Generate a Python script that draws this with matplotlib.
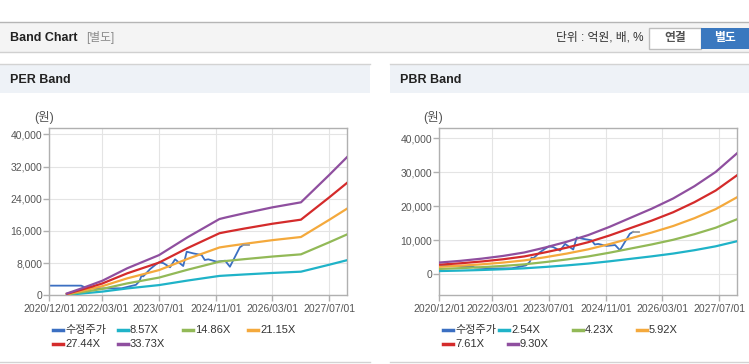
import numpy as np
import matplotlib.pyplot as plt
import matplotlib.dates as mdates
from matplotlib.lines import Line2D
from matplotlib.patches import Rectangle

plt.rcParams['font.family'] = ['Liberation Sans', 'Noto Sans CJK KR']

# adjusted share price (same for both charts)
price_dates = ['2020-12-01', '2021-09-01', '2021-10-01', '2022-03-01', '2022-08-15',
               '2022-12-15', '2023-01-15', '2023-02-01', '2023-02-15', '2023-03-01',
               '2023-04-15', '2023-06-01', '2023-07-01', '2023-08-07', '2023-10-04',
               '2023-11-16', '2024-01-25', '2024-02-24', '2024-04-19', '2024-07-01',
               '2024-07-28', '2024-08-27', '2024-11-07', '2025-01-19', '2025-03-01',
               '2025-05-25', '2025-06-22']
price_vals = [2400, 2400, 2000, 1700, 1750,
              2600, 3550, 4900, 4700, 5100,
              6500, 7600, 8200, 8000, 6960,
              8940, 7280, 10830, 10430, 10010,
              8770, 8940, 8350, 8600, 7100,
              11920, 12490]
last_dates = ['2025-06-22', '2025-08-10']
last_vals = [12490, 12490]

# PER band: EPS (won) x multiple
per_dates = ['2021-05-01', '2021-09-01', '2022-03-01', '2022-10-01', '2023-07-01',
             '2024-03-01', '2024-12-01', '2025-02-01', '2025-07-01', '2026-03-01',
             '2026-11-01', '2027-07-01', '2027-12-04']
per_eps = [13.3, 50, 107, 199, 296, 427, 562, 575, 604, 648, 685, 886, 1020]
per_mult = [8.57, 14.86, 21.15, 27.44, 33.73]

# PBR band: BPS (won) x multiple
pbr_dates = ['2020-12-01', '2021-06-01', '2021-12-01', '2022-06-01', '2022-12-01',
             '2023-06-01', '2023-12-01', '2024-06-01', '2024-12-01', '2025-06-01',
             '2025-12-01', '2026-06-01', '2026-12-01', '2027-06-01', '2027-12-04']
pbr_bps = [371, 425, 495, 580, 690, 850, 1030, 1240, 1500, 1790, 2080, 2400,
           2790, 3240, 3839]
pbr_mult = [2.54, 4.23, 5.92, 7.61, 9.30]

x_ticks = ['2020-12-01', '2022-03-01', '2023-07-01', '2024-11-01', '2026-03-01', '2027-07-01']

price_color = '#3b6fc2'
band_colors = ['#1fb3c8', '#92b957', '#f4a93c', '#d42b2b', '#8f4f9f']

W, H = 749, 364
fig = plt.figure(figsize=(W / 100, H / 100), dpi=100)


def fx(x):
    return x / W


def fy(y):
    return 1 - y / H


def hline(x0, x1, y, color):
    fig.add_artist(Line2D([fx(x0), fx(x1)], [fy(y), fy(y)], color=color, lw=1))


def box(x0, y0, x1, y1, fc, ec='none'):
    fig.add_artist(Rectangle((fx(x0), fy(y1)), fx(x1) - fx(x0), fy(y0) - fy(y1),
                             fc=fc, ec=ec, lw=1))


# page header
box(0, 22, 749, 52, '#f4f4f4')
hline(0, 749, 22, '#b5b5b5')
hline(0, 749, 52, '#d0d0d0')
fig.text(fx(10), fy(38), 'Band Chart', fontsize=9, fontweight='bold', color='#222222',
         va='center')
fig.text(fx(86), fy(38), '[별도]', fontsize=8.5, color='#8a8a8a', va='center')
fig.text(fx(643), fy(38), '단위 : 억원, 배, %', fontsize=8.5, color='#333333',
         va='center', ha='right')
box(649, 28, 701, 49, 'white', '#bdbdbd')
box(701, 28, 749, 49, '#3a78bf')
fig.text(fx(675), fy(38.5), '연결', fontsize=8.5, fontweight='bold', color='#555555',
         va='center', ha='center')
fig.text(fx(725), fy(38.5), '별도', fontsize=8.5, fontweight='bold', color='white',
         va='center', ha='center')

# panel headers
for px0, px1, title in [(0, 370, 'PER Band'), (390, 749, 'PBR Band')]:
    box(px0, 64, px1, 93, '#eef2f7')
    hline(px0, px1, 64, '#d3d3d3')
    hline(px0, px1, 362, '#d3d3d3')
    fig.text(fx(px0 + 10), fy(80), title, fontsize=9, fontweight='bold', color='#222222',
             va='center')


def draw_panel(left, ylim, yticks, dates, base, mults, unit_x, legend_pos):
    ax = fig.add_axes([fx(left), fy(295.3), fx(298), (295.3 - 128.3) / H])
    t = mdates.datestr2num(price_dates)
    ax.plot(t, price_vals, color=price_color, lw=1.3, zorder=2)
    d = mdates.datestr2num(dates)
    for m, c in zip(mults, band_colors):
        ax.plot(d, np.array(base) * m, color=c, lw=1.6, zorder=3)
    ax.plot(mdates.datestr2num(last_dates), last_vals, color='#9a9a9a', lw=1.3, zorder=4)

    ax.set_xlim(mdates.datestr2num('2020-12-01'), mdates.datestr2num('2027-12-04'))
    ax.set_ylim(*ylim)
    xt = mdates.datestr2num(x_ticks)
    ax.set_xticks(xt)
    ax.set_xticklabels([s.replace('-', '/') for s in x_ticks])
    ax.set_yticks(yticks)
    ax.set_yticklabels([f'{v:,}' for v in yticks])
    ax.grid(True, color='#e4e4e4', lw=0.8)
    ax.set_axisbelow(True)
    for s in ax.spines.values():
        s.set_color('#b0b0b0')
        s.set_linewidth(1)
    ax.tick_params(axis='both', colors='#b0b0b0', labelcolor='#555555', labelsize=7.5,
                   length=4, width=1)
    ax.tick_params(axis='y', pad=1)
    ax.tick_params(axis='x', pad=2)
    fig.text(fx(unit_x), fy(117), '(원)', fontsize=9, color='#555555', ha='center', va='center')

    labels = ['수정주가'] + [f'{m:.2f}X' for m in mults]
    colors = [price_color] + band_colors
    for (lx, ly), lab, c in zip(legend_pos, labels, colors):
        fig.add_artist(Line2D([fx(lx), fx(lx + 10)], [fy(ly), fy(ly)], color=c, lw=2.5))
        fig.text(fx(lx + 12), fy(ly), lab, fontsize=8, color='#333333', va='center')


per_legend = [(53, 330), (118, 330), (183, 330), (248, 330), (53, 344), (118, 344)]
pbr_legend = [(443, 330), (499, 330), (573, 330), (637, 330), (443, 344), (508, 344)]

draw_panel(49.3, (0, 41500), [0, 8000, 16000, 24000, 32000, 40000],
           per_dates, per_eps, per_mult, 44, per_legend)
draw_panel(439.3, (-6200, 43000), [0, 10000, 20000, 30000, 40000],
           pbr_dates, pbr_bps, pbr_mult, 433, pbr_legend)

fig.savefig('out.png', dpi=100)
